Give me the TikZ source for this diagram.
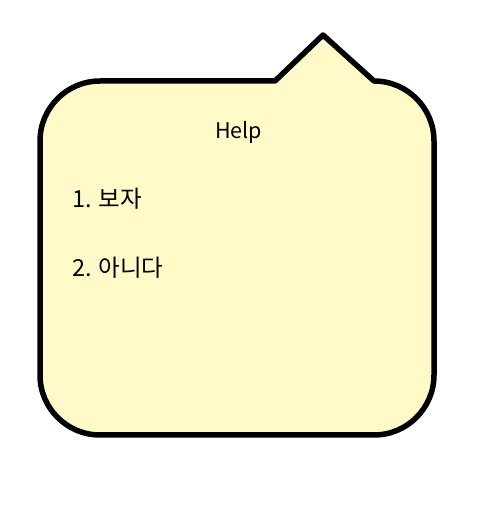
\documentclass[tikz,border=0pt]{standalone}
\usepackage{fontspec}
\setmainfont{Noto Sans CJK KR}
\definecolor{bubblefill}{HTML}{FFFAC8}
\begin{document}
\begin{tikzpicture}[x=1pt,y=1pt,
  bubble/.style={draw=black,line width=5.5pt,fill=bubblefill,line join=round},
  txt/.style={inner sep=0pt,outer sep=0pt,font=\fontsize{23.5}{28}\selectfont},
  item/.style={txt,anchor=base west}]
\useasboundingbox (0,0) rectangle (493,506);
\draw[bubble] (275,425) -- (323,471) -- (374,425)
  arc[start angle=90,end angle=0,radius=60pt] -- (434,131)
  arc[start angle=0,end angle=-90,radius=60pt] -- (100,71)
  arc[start angle=270,end angle=180,radius=60pt] -- (40,365)
  arc[start angle=180,end angle=90,radius=60pt] -- cycle;
\node[txt,anchor=base,font=\fontsize{21.5}{26}\selectfont] (help) at (238.5,367) {Help};
\node[item] (one) at (72,298) {1. 보자};
\node[item] (two) at (72,229) {2. 아니다};
\end{tikzpicture}
\end{document}
